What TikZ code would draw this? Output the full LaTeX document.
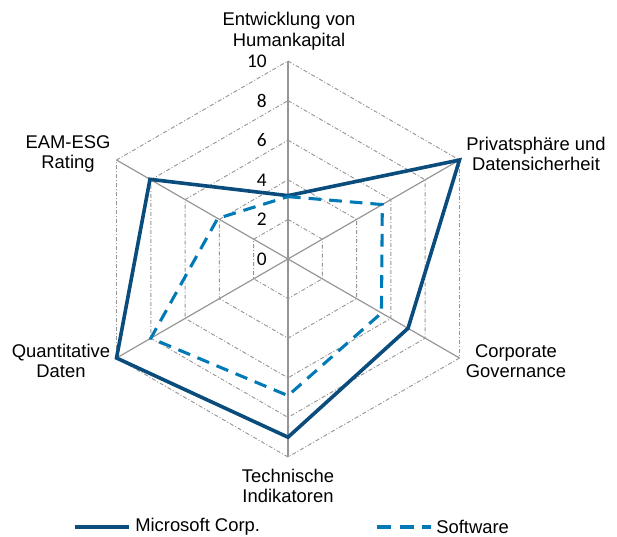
\documentclass[tikz,border=0pt]{standalone}
\usepackage{fontspec}
\setmainfont{Liberation Sans}
\newfontfamily\tickfont{Carlito}
\definecolor{msblue}{RGB}{10,76,124}
\definecolor{swblue}{RGB}{0,122,182}
\definecolor{gridgray}{RGB}{150,150,150}
\definecolor{spokegray}{RGB}{150,150,150}
\tikzset{
  gridline/.style={draw=gridgray, line width=0.7pt, dash pattern=on 3pt off 1.5pt on 0.75pt off 1.5pt},
  spoke/.style={draw=spokegray, line width=0.9pt},
  mainspoke/.style={draw=spokegray, line width=1.5pt},
  msline/.style={draw=msblue, line width=2.7pt, line join=miter},
  swline/.style={draw=swblue, line width=2.3pt, dash pattern=on 9.5pt off 6pt},
  catlabel/.style={font=\fontsize{13.8}{15.5}\selectfont, align=center, inner sep=0pt},
  ticklabel/.style={font=\tickfont\fontsize{14.5}{16}\selectfont, inner sep=0pt, anchor=east},
  legtext/.style={font=\fontsize{13.8}{15.5}\selectfont, inner sep=0pt, anchor=west}
}
\begin{document}
\begin{tikzpicture}[x=0.75pt,y=0.75pt]
\useasboundingbox (0,0) rectangle (617,-536);
\begin{scope}[shift={(288,-259)}]
  % grid hexagons
  \foreach \v in {2,4,6,8,10} {
    \draw[gridline] (90:\v*19.8) -- (30:\v*19.8) -- (-30:\v*19.8) -- (-90:\v*19.8) -- (-150:\v*19.8) -- (150:\v*19.8) -- cycle;
  }
  % spokes
  \coordinate (c) at (0,0);
  \foreach \a/\n in {30/ur,-30/lr,-90/bt,-150/ll,150/ul} {
    \coordinate (\n) at (\a:198);
    \draw[spoke] (c) -- (\n);
  }
  \coordinate (tp) at (90:198);
  \draw[mainspoke] (c) -- (tp);
  % tick labels
  \foreach \v in {0,2,4,6,8,10} {
    \node[ticklabel] (t\v) at (-21,\v*19.8) {\v};
  }
  % Microsoft Corp.
  \coordinate (m1) at (90:3.2*19.8);
  \coordinate (m2) at (30:10*19.8);
  \coordinate (m3) at (-30:7*19.8);
  \coordinate (m4) at (-90:9*19.8);
  \coordinate (m5) at (-150:10*19.8);
  \coordinate (m6) at (150:8.05*19.8);
  \draw[msline] (m1) -- (m2) -- (m3) -- (m4) -- (m5) -- (m6) -- cycle;
  % Software
  \coordinate (s1) at (90:3.15*19.8);
  \coordinate (s2) at (30:5.5*19.8);
  \coordinate (s3) at (-30:5.45*19.8);
  \coordinate (s4) at (-90:6.9*19.8);
  \coordinate (s5) at (-150:8*19.8);
  \coordinate (s6) at (150:4.1*19.8);
  \draw[swline] (s1) -- (s2) -- (s3) -- (s4) -- (s5) -- (s6) -- cycle;
\end{scope}
% category labels
\node[catlabel] (l1) at (289,-31) {Entwicklung von\\Humankapital};
\node[catlabel] (l2) at (536,-154) {Privatsphäre und\\Datensicherheit};
\node[catlabel] (l3) at (516,-361) {Corporate\\Governance};
\node[catlabel] (l4) at (288,-486) {Technische\\Indikatoren};
\node[catlabel] (l5) at (61,-361) {Quantitative\\Daten};
\node[catlabel] (l6) at (68,-154) {EAM-ESG\\Rating};
% legend
\coordinate (a1) at (75,-527);
\coordinate (a2) at (129,-527);
\draw[msline] (a1) -- (a2);
\node[legtext] (lg1) at (135,-527) {Microsoft Corp.};
\coordinate (b1) at (377,-527);
\coordinate (b2) at (431,-527);
\draw[swline, dash pattern=on 10.5pt off 6.5pt] (b1) -- (b2);
\node[legtext] (lg2) at (436,-527) {Software};
\end{tikzpicture}
\end{document}
